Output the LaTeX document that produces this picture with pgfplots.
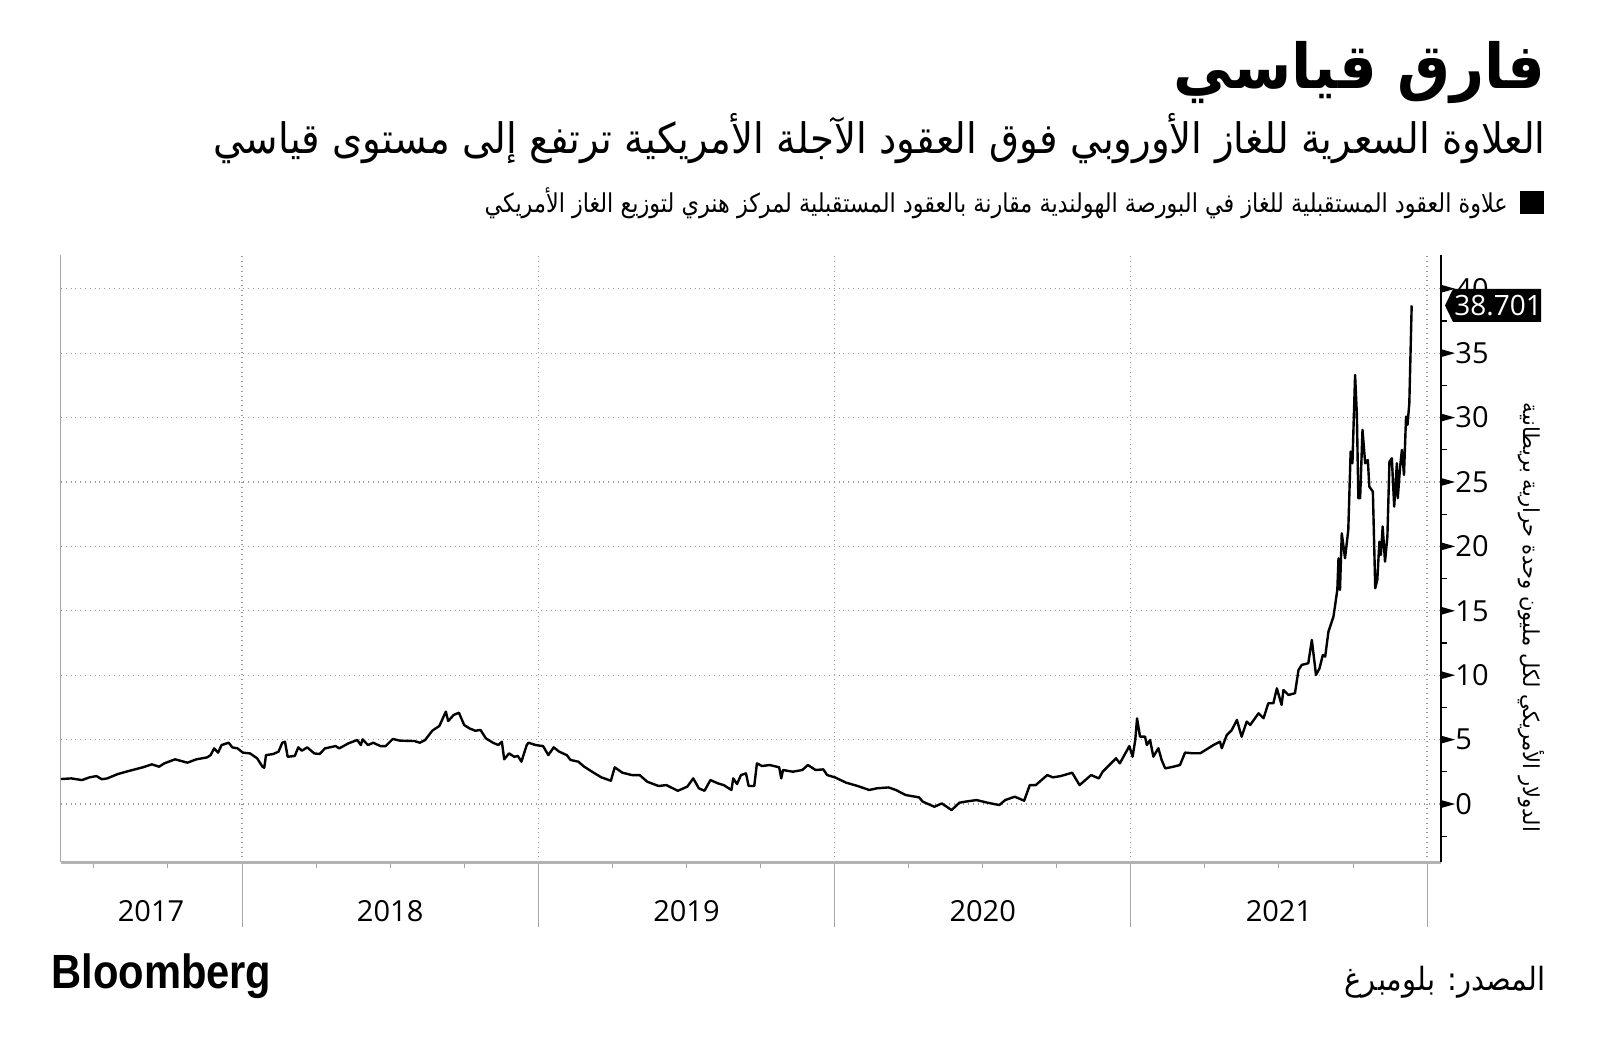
\documentclass[border=0pt]{standalone}
\usepackage{pgfplots}
\pgfplotsset{compat=1.18}
\usepackage{fontspec}
\setmainfont{Open Sans}
\newfontfamily\arabicfont[Script=Arabic]{DejaVu Sans}
\newfontfamily\logofont{Liberation Sans}
\TeXXeTstate=1
% x = years since 1 Jan 2017
\begin{document}
\begin{tikzpicture}
\useasboundingbox (0,0) rectangle (800pt,528.5pt);
\begin{axis}[
  at={(30.5pt,97.5pt)}, anchor=south west,
  width=690pt, height=303.5pt, scale only axis,
  xmin=0.389, xmax=5.047, ymin=-4.5, ymax=42.62,
  axis line style={draw=none},
  clip=false,
  /pgf/number format/assume math mode=true,
  xtick={0.693,1.5,2.5,3.5,4.5},
  xticklabels={2017,2018,2019,2020,2021},
  minor xtick={0.5,0.75,1.25,1.5,1.75,2.25,2.5,2.75,3.25,3.5,3.75,4.25,4.5,4.75},
  xtick pos=left, ytick pos=right, yticklabel pos=right,
  tick align=outside,
  major tick length=0pt,
  minor tick length=3pt,
  xtick style={gray!70, line width=0.5pt},
  ytick style={black, line width=0.6pt},
  extra x ticks={1,2,3,4,5},
  extra x tick labels={},
  extra x tick style={grid=major, major tick length=32.5pt, tick style={gray!50, line width=0.5pt}},
  ytick={0,5,...,40},
  minor ytick={-2.5,2.5,...,37.5},
  ymajorgrids=true,
  grid style={dotted, gray!80, line width=0.6pt},
  xticklabel style={font=\fontsize{14.5}{15}\selectfont, anchor=base, yshift=-29.5pt},
  yticklabel style={font=\fontsize{14.5}{15}\selectfont, anchor=west, inner sep=0pt, xshift=7pt},
]
\draw[gray!70, line width=0.5pt] (rel axis cs:0,0) -- (rel axis cs:0,1);
\draw[gray!60, line width=1.5pt] (rel axis cs:0,0) -- (rel axis cs:1,0);
\draw[black, line width=0.8pt] (rel axis cs:1,0) -- (rel axis cs:1,1);
\pgfplotsinvokeforeach{0,5,10,15,20,25,30,35,40}{
  \coordinate (tk#1) at (axis cs:5.047,#1);
}
\addplot[black, line width=1.2pt, line join=round] table {
x y
0.389 1.94
0.424 1.99
0.460 1.86
0.485 2.07
0.509 2.17
0.527 1.92
0.545 1.99
0.581 2.33
0.617 2.56
0.665 2.85
0.696 3.08
0.720 2.90
0.738 3.16
0.774 3.47
0.816 3.21
0.846 3.47
0.882 3.62
0.894 3.80
0.906 4.32
0.919 3.99
0.931 4.58
0.955 4.76
0.967 4.40
0.985 4.32
1.003 3.99
1.027 3.93
1.051 3.55
1.069 2.90
1.075 2.82
1.081 3.80
1.105 3.88
1.123 4.06
1.136 4.76
1.145 4.84
1.154 3.67
1.178 3.73
1.190 4.40
1.202 4.14
1.220 4.40
1.244 3.93
1.262 3.88
1.280 4.32
1.316 4.50
1.328 4.32
1.359 4.71
1.389 4.97
1.401 4.58
1.407 5.02
1.425 4.58
1.443 4.76
1.467 4.50
1.485 4.50
1.509 5.05
1.533 4.92
1.582 4.89
1.600 4.76
1.618 4.97
1.642 5.69
1.666 6.06
1.688 7.17
1.696 6.44
1.714 6.91
1.732 7.09
1.750 6.13
1.768 5.87
1.787 5.69
1.805 5.75
1.823 5.10
1.847 4.76
1.865 4.58
1.877 4.84
1.885 3.47
1.901 3.93
1.919 3.67
1.931 3.73
1.943 3.29
1.961 4.58
1.967 4.76
1.991 4.58
2.016 4.50
2.034 3.80
2.052 4.40
2.071 4.06
2.096 3.80
2.109 3.42
2.135 3.29
2.155 2.90
2.187 2.43
2.213 2.07
2.245 1.81
2.258 2.85
2.284 2.43
2.316 2.25
2.342 2.25
2.368 1.73
2.406 1.40
2.432 1.47
2.471 1.03
2.503 1.35
2.523 1.99
2.542 1.22
2.561 1.03
2.581 1.86
2.607 1.60
2.626 1.47
2.652 1.09
2.658 1.99
2.671 1.55
2.684 2.25
2.701 2.38
2.710 1.40
2.729 1.40
2.738 3.16
2.755 2.95
2.781 3.03
2.813 2.85
2.820 1.99
2.826 2.64
2.859 2.51
2.891 2.64
2.910 3.03
2.936 2.64
2.962 2.69
2.975 2.25
3.001 2.07
3.039 1.66
3.078 1.40
3.117 1.09
3.143 1.22
3.182 1.29
3.207 1.09
3.240 0.70
3.285 0.52
3.298 0.18
3.337 -0.21
3.362 0.05
3.395 -0.47
3.421 0.10
3.440 0.18
3.479 0.31
3.517 0.10
3.556 -0.08
3.576 0.31
3.608 0.57
3.640 0.26
3.659 1.47
3.679 1.47
3.718 2.25
3.737 2.07
3.763 2.17
3.802 2.43
3.827 1.47
3.853 1.99
3.866 2.25
3.892 1.99
3.905 2.51
3.950 3.55
3.963 3.16
3.995 4.50
4.006 3.67
4.015 4.97
4.021 6.65
4.031 5.23
4.048 5.23
4.054 4.58
4.065 4.97
4.076 3.68
4.093 4.33
4.104 3.42
4.116 2.77
4.144 2.90
4.166 3.03
4.183 3.99
4.211 3.94
4.234 3.94
4.256 4.25
4.279 4.58
4.301 4.84
4.307 4.33
4.324 5.36
4.341 5.75
4.358 6.53
4.374 5.23
4.391 6.40
4.403 6.14
4.431 7.04
4.448 6.66
4.464 7.82
4.481 7.82
4.493 8.98
4.509 7.69
4.515 8.85
4.532 8.47
4.554 8.60
4.566 10.41
4.577 10.80
4.599 10.93
4.611 12.74
4.625 10.02
4.637 10.54
4.648 11.57
4.656 11.44
4.667 13.38
4.684 14.55
4.697 16.62
4.701 19.08
4.706 16.62
4.712 21.02
4.723 19.08
4.734 21.28
4.742 27.36
4.748 26.45
4.757 33.31
4.763 30.21
4.768 23.74
4.774 23.74
4.782 29.04
4.791 26.45
4.800 26.71
4.805 24.64
4.817 24.25
4.825 16.75
4.832 17.40
4.839 20.37
4.844 19.34
4.850 21.54
4.858 18.82
4.866 20.76
4.873 26.58
4.881 26.84
4.889 23.09
4.898 26.45
4.901 23.74
4.909 26.20
4.915 27.49
4.922 25.55
4.929 30.08
4.934 29.44
4.940 31.11
4.948 38.70
};
\coordinate (lastv) at (axis cs:5.047,38.701);
\end{axis}
\foreach \v in {0,5,10,15,20,25,30,35,40} {
  \fill[black] (tk\v) ++(0,2pt) -- ++(7pt,-2pt) -- ++(-7pt,-2pt) -- cycle;
}
\fill[black] (lastv) ++(2pt,0) -- ++(4pt,8.25pt) -- ++(44pt,0) -- ++(0,-16.5pt) -- ++(-44pt,0) -- cycle;
\node[white, inner sep=0pt, font=\fontsize{14}{15}\selectfont] at ([xshift=28.5pt]lastv) {38.701};
% titles
\node[anchor=east, inner sep=0pt] at (773pt,492pt) {\resizebox{186pt}{\height}{\arabicfont\bfseries\fontsize{31}{32}\selectfont\beginR فارق قياسي\endR}};
\node[anchor=east, inner sep=0pt] at (773pt,459pt) {\resizebox{666pt}{\height}{\arabicfont\fontsize{21}{22}\selectfont\beginR العلاوة السعرية للغاز الأوروبي فوق العقود الآجلة الأمريكية ترتفع إلى مستوى قياسي\endR}};
\fill[black] (760pt,421.5pt) rectangle (772pt,433pt);
\node[anchor=east, inner sep=0pt] at (754pt,427pt) {\resizebox{511.5pt}{\height}{\arabicfont\fontsize{13}{14}\selectfont\beginR علاوة العقود المستقبلية للغاز في البورصة الهولندية مقارنة بالعقود المستقبلية لمركز هنري لتوزيع الغاز الأمريكي\endR}};
\node[rotate=-90, inner sep=0pt] at (765.5pt,219.75pt) {\resizebox{214.5pt}{\height}{\arabicfont\fontsize{11}{12}\selectfont\beginR الدولار الأمريكي لكل مليون وحدة حرارية بريطانية\endR}};
\node[anchor=east, inner sep=0pt] at (773pt,37.5pt) {\resizebox{100.5pt}{\height}{\arabicfont\fontsize{16}{17}\selectfont\beginR المصدر: بلومبرغ\endR}};
\node[anchor=west, inner sep=0pt] at (25.5pt,40.5pt) {\resizebox{110pt}{\height}{\logofont\bfseries\fontsize{24}{25}\selectfont Bloomberg}};
\end{tikzpicture}
\end{document}
